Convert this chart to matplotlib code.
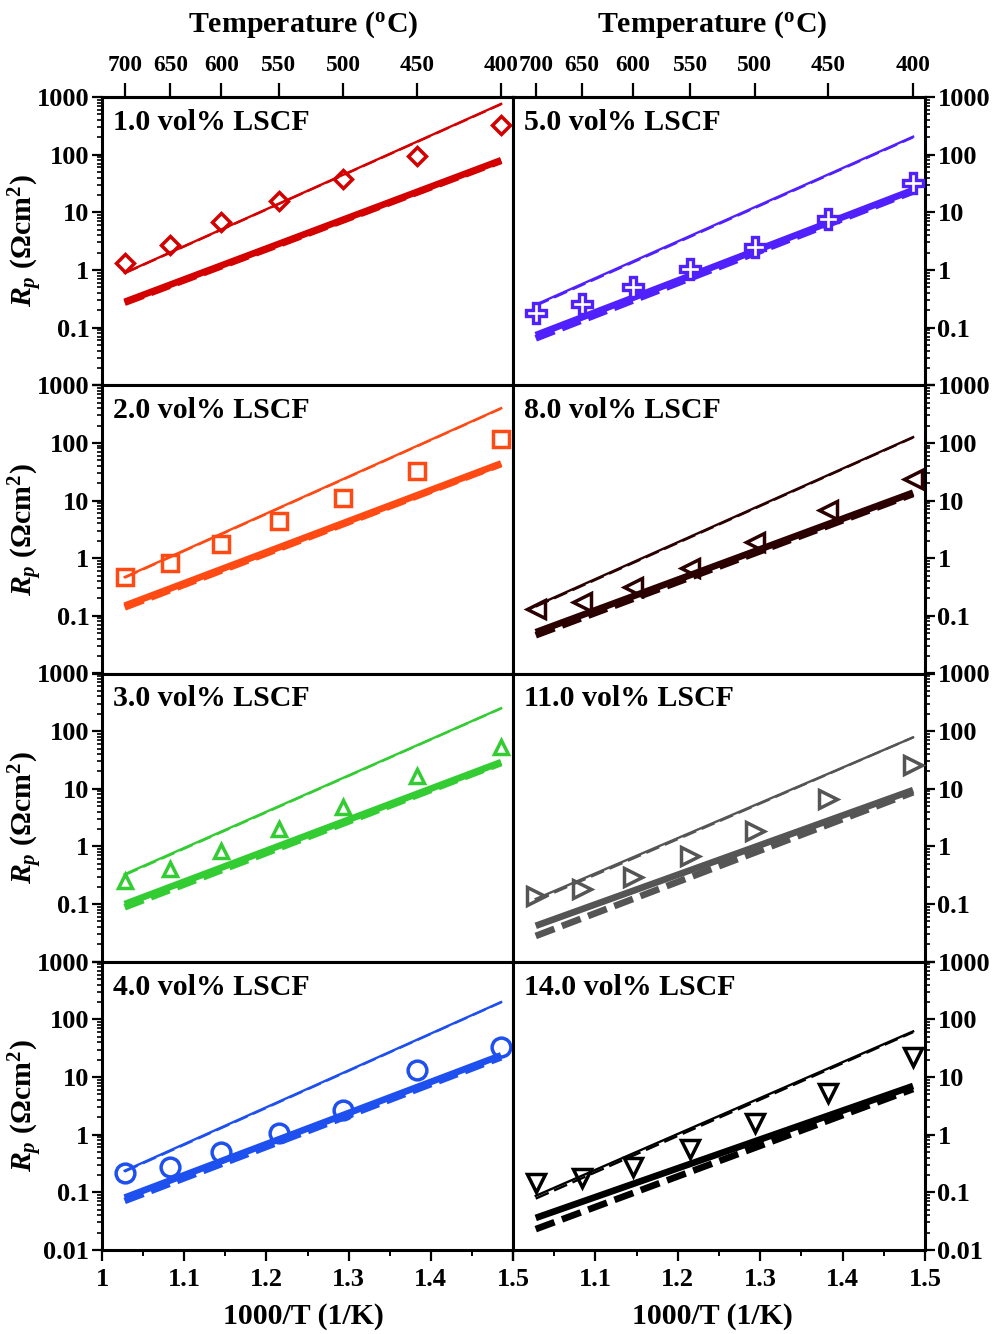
import numpy as np
import matplotlib
matplotlib.use("Agg")
import matplotlib.pyplot as plt
from matplotlib.ticker import FixedLocator, LogLocator, NullFormatter, MultipleLocator

# ---------------- data ----------------
temps_C = [700, 650, 600, 550, 500, 450, 400]
panel_labels = ["1.0 vol% LSCF", "2.0 vol% LSCF", "3.0 vol% LSCF", "4.0 vol% LSCF",
                "5.0 vol% LSCF", "8.0 vol% LSCF", "11.0 vol% LSCF", "14.0 vol% LSCF"]
colors = ["#d40000", "#ff4a14", "#33cc33", "#1e50f0",
          "#5020ff", "#2b0000", "#555555", "#000000"]
markers = ["D", "s", "^", "o", "P", "<", ">", "v"]
marker_sizes = [9, 12, 10, 13.5, 14, 12.5, 12.5, 12.5]

# measured Rp (ohm cm2) at temps_C
rp_1p0 = [1.3, 2.7, 6.7, 15.6, 38, 96, 327]
rp_2p0 = [0.47, 0.82, 1.79, 4.4, 11, 32, 115]
rp_3p0 = [0.25, 0.41, 0.82, 2.0, 4.9, 17, 54]
rp_4p0 = [0.22, 0.28, 0.51, 1.07, 2.73, 13.4, 33]
rp_5p0 = [0.18, 0.26, 0.5, 1.03, 2.5, 7.8, 31.6]
rp_8p0 = [0.133, 0.174, 0.32, 0.68, 1.9, 6.8, 24]
rp_11p0 = [0.14, 0.18, 0.30, 0.69, 1.88, 6.7, 26]
rp_14p0 = [0.148, 0.18, 0.27, 0.56, 1.6, 5.2, 22]
measured = [rp_1p0, rp_2p0, rp_3p0, rp_4p0, rp_5p0, rp_8p0, rp_11p0, rp_14p0]

# model lines: values at 700 C and 400 C
line_temps_C = [700, 400]
thin_solid = [[0.89, 760], [0.47, 400], [0.33, 250], [0.237, 200],
              [0.25, 205], [0.15, 126], [0.123, 78], [0.087, 62]]
thin_dashed = [[0.88, 750], [0.46, 395], [0.32, 248], [0.23, 198],
               [0.24, 200], [0.145, 124], [0.115, 78], [0.078, 60]]
thick_solid = [[0.28, 80], [0.15, 44], [0.10, 29], [0.081, 23.8],
               [0.074, 24.3], [0.052, 13.7], [0.042, 9.5], [0.036, 7.0]]
thick_dashed = [[0.27, 78], [0.14, 43], [0.088, 28], [0.071, 22],
                [0.065, 23], [0.046, 13], [0.028, 8.7], [0.023, 6.2]]

ytick_vals = [0.01, 0.1, 1, 10, 100, 1000]
ytick_labels = ["0.01", "0.1", "1", "10", "100", "1000"]
xtick_vals = [1.0, 1.1, 1.2, 1.3, 1.4, 1.5]
xtick_labels = ["1", "1.1", "1.2", "1.3", "1.4", "1.5"]

# ---------------- style ----------------
plt.rcParams["font.family"] = ["Liberation Serif", "DejaVu Serif"]
plt.rcParams["font.weight"] = "bold"
plt.rcParams["mathtext.fontset"] = "custom"
plt.rcParams["mathtext.rm"] = "Liberation Serif:bold"
plt.rcParams["mathtext.bf"] = "Liberation Serif:bold"
plt.rcParams["mathtext.it"] = "Liberation Serif:italic:bold"
plt.rcParams["axes.linewidth"] = 2.2

W, H = 1001, 1334
fig = plt.figure(figsize=(W / 100, H / 100), dpi=100)

col_left = [102, 513]
col_w = [411, 412]
top_px, bot_px = 97, 1250
ph = (bot_px - top_px) / 4.0

def inv_T(T):
    return 1000.0 / (np.asarray(T, dtype=float) + 273.15)

def to_T(x):
    return 1000.0 / np.asarray(x, dtype=float) - 273.15

tick_fs = 19
top_fs = 16.8
label_fs = 21.5

for i in range(8):
    col = i // 4
    row = i % 4
    left = col_left[col] / W
    width = col_w[col] / W
    bottom = 1 - (top_px + (row + 1) * ph) / H
    ax = fig.add_axes([left, bottom, width, ph / H])
    c = colors[i]

    lx = inv_T(line_temps_C)
    ax.plot(lx, thick_dashed[i], color=c, lw=4.8, ls=(0, (3.0, 1.2)), solid_capstyle="butt", zorder=2)
    ax.plot(lx, thick_solid[i], color=c, lw=4.8, ls="-", solid_capstyle="butt", zorder=2)
    ax.plot(lx, thin_dashed[i], color=c, lw=1.7, ls=(0, (6, 2.5)), zorder=3)
    ax.plot(lx, thin_solid[i], color=c, lw=1.7, ls="-", zorder=3)

    mx = inv_T(temps_C)
    if markers[i] == "P":
        ax.plot(mx, measured[i], ls="none", marker="P", ms=marker_sizes[i],
                mfc="white", mec=c, mew=2.4, zorder=4)
    else:
        ax.plot(mx, measured[i], ls="none", marker=markers[i], ms=marker_sizes[i],
                mfc="none", mec=c, mew=2.5, zorder=4)

    ax.set_yscale("log")
    ax.set_ylim(0.01, 1000)
    ax.set_xlim(1.0, 1.5)

    # y ticks
    ax.yaxis.set_major_locator(FixedLocator(ytick_vals))
    ax.yaxis.set_minor_locator(LogLocator(base=10, subs=np.arange(2, 10), numticks=20))
    ax.yaxis.set_minor_formatter(NullFormatter())
    labs = list(ytick_labels)
    if row < 3:
        labs[0] = ""
    ax.set_yticklabels(labs)
    if col == 0:
        ax.tick_params(axis="y", which="both", direction="out", left=True, right=False,
                       labelleft=True, labelright=False)
    else:
        ax.tick_params(axis="y", which="both", direction="out", left=False, right=True,
                       labelleft=False, labelright=True)
    ax.tick_params(axis="y", which="major", length=7, width=1.6, labelsize=tick_fs, pad=2)
    ax.tick_params(axis="y", which="minor", length=3.8, width=1.2)

    # x ticks
    ax.xaxis.set_major_locator(FixedLocator(xtick_vals))
    ax.xaxis.set_minor_locator(MultipleLocator(0.05))
    if row == 3:
        xl = list(xtick_labels)
        if col == 1:
            xl[0] = ""
        ax.set_xticklabels(xl)
        ax.tick_params(axis="x", which="both", direction="out", bottom=True, top=False,
                       labelbottom=True)
        ax.tick_params(axis="x", which="major", length=8, width=1.6, labelsize=tick_fs, pad=5)
        ax.tick_params(axis="x", which="minor", length=4.5, width=1.4)
    else:
        ax.tick_params(axis="x", which="both", bottom=False, top=False, labelbottom=False)

    for lab in ax.get_xticklabels() + ax.get_yticklabels():
        lab.set_fontweight("bold")

    # top temperature axis
    if row == 0:
        sec = ax.secondary_xaxis("top", functions=(to_T, inv_T))
        sec.set_xticks(temps_C)
        sec.set_xticklabels([str(t) for t in temps_C])
        sec.tick_params(axis="x", which="major", direction="out", length=10, width=1.6,
                        labelsize=top_fs, pad=5)
        sec.tick_params(axis="x", which="minor", top=False, length=0)
        sec.xaxis.set_minor_locator(FixedLocator([]))
        for lab in sec.get_xticklabels():
            lab.set_fontweight("bold")
        sec.spines["top"].set_linewidth(2.2)

    ax.text(0.027, 0.912, panel_labels[i], transform=ax.transAxes, ha="left", va="center",
            fontsize=label_fs, fontweight="bold", color="black")

    if col == 0:
        yc = 1 - (top_px + (row + 0.5) * ph) / H
        fig.text(26 / W, yc, r"$R_p$ ($\Omega$cm$^2$)", rotation=90, ha="center", va="center",
                 fontsize=label_fs, fontweight="bold")

for cx in [303, 712]:
    fig.text(cx / W, 1 - 1316 / H, "1000/T (1/K)", ha="center", va="center",
             fontsize=label_fs, fontweight="bold")
    fig.text(cx / W, 1 - 25 / H, r"Temperature ($^{\rm o}$C)", ha="center", va="center",
             fontsize=label_fs, fontweight="bold")

fig.savefig("out.png", dpi=100)
